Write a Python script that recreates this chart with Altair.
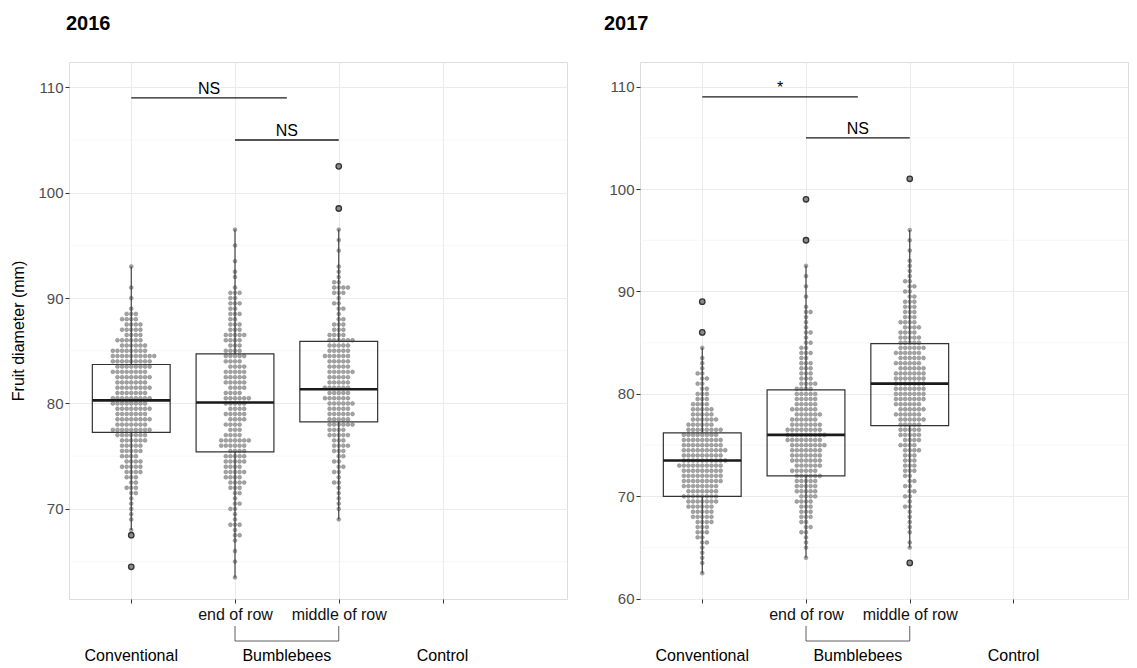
import altair as alt
import pandas as pd

FONT = "Liberation Sans"
CATS = [1, 2, 3, 4]
GROUP_LABELS = ["Conventional", "Bumblebees", "Control"]
GROUP_POS = [1, 2.5, 4]
STEP = 0.5  # counts are per 0.5 mm of fruit diameter

# ---------------- 2016: number of fruits per 0.5 mm value ----------------
conv16_start = 64.5
conv16_counts = [1, 0, 0, 0, 0, 0, 1, 1, 0, 1, 1, 1, 1, 1, 2, 3, 2, 3, 4, 5,
                 4, 4, 5, 5, 6, 7, 9, 7, 8, 7, 8, 8, 9, 7, 8, 7, 8, 8, 8, 9,
                 10, 8, 6, 6, 4, 5, 4, 4, 3, 1, 0, 1, 0, 1, 0, 0, 0, 1]
eor16_start = 63.5
eor16_counts = [1, 0, 0, 1, 0, 1, 0, 1, 2, 1, 3, 1, 1, 2, 2, 1, 2, 3, 4, 4,
                5, 4, 5, 5, 4, 6, 7, 4, 3, 4, 4, 5, 4, 5, 6, 4, 4, 5, 5, 5,
                4, 4, 5, 4, 3, 4, 5, 3, 3, 2, 3, 2, 3, 2, 3, 1, 0, 1, 1, 0,
                1, 0, 0, 1, 0, 0, 1]
mor16_start = 69.0
mor16_counts = [1, 0, 1, 1, 1, 1, 1, 2, 1, 2, 2, 2, 2, 3, 4, 3, 5, 4, 6, 5,
                6, 5, 6, 6, 5, 6, 5, 5, 6, 5, 5, 6, 5, 5, 6, 4, 3, 3, 2, 1,
                2, 2, 1, 3, 4, 2, 1, 1, 1, 0, 0, 1, 0, 1, 0, 1, 0, 0, 0, 1,
                0, 0, 0, 0, 0, 0, 0, 1]

# ---------------- 2017 ----------------
conv17_start = 62.5
conv17_counts = [1, 0, 1, 1, 1, 1, 2, 2, 3, 3, 4, 5, 5, 6, 7, 8, 7, 8, 9, 9,
                 9, 10, 10, 9, 10, 9, 9, 8, 8, 6, 6, 5, 5, 4, 3, 3, 2, 2, 2, 2,
                 1, 1, 1, 0, 1, 0, 0, 1, 0, 0, 0, 0, 0, 1]
eor17_start = 64.0
eor17_counts = [1, 0, 1, 1, 1, 2, 2, 2, 3, 3, 3, 4, 4, 5, 5, 5, 6, 6, 6, 7,
                7, 7, 8, 8, 9, 8, 7, 6, 6, 6, 5, 5, 5, 4, 4, 3, 3, 3, 3, 2,
                3, 2, 2, 1, 2, 1, 1, 1, 2, 1, 0, 1, 0, 1, 0, 1, 0, 1, 0, 0,
                0, 0, 1, 0, 0, 0, 0, 0, 0, 0, 1]
mor17_start = 63.5
mor17_counts = [1, 0, 0, 1, 1, 0, 1, 1, 1, 1, 1, 2, 1, 2, 2, 2, 2, 2, 3, 3,
                3, 3, 4, 4, 4, 5, 5, 5, 6, 6, 6, 6, 7, 7, 7, 7, 7, 7, 6, 6,
                6, 6, 6, 5, 5, 4, 4, 4, 3, 3, 3, 3, 2, 2, 2, 2, 1, 1, 1, 1,
                0, 1, 0, 1, 0, 1, 0, 0, 0, 0, 0, 0, 0, 0, 0, 1]

# ---------------- box statistics ----------------
q1_16 = [77.25, 75.4, 78.25]
med_16 = [80.3, 80.1, 81.35]
q3_16 = [83.7, 84.7, 85.9]
lo_16 = [68.0, 63.5, 69.0]
hi_16 = [93.0, 96.5, 96.5]
outx_16 = [1, 1, 3, 3]
outy_16 = [67.5, 64.5, 98.5, 102.5]

q1_17 = [70.0, 72.0, 76.9]
med_17 = [73.5, 76.0, 81.0]
q3_17 = [76.2, 80.4, 84.9]
lo_17 = [62.5, 64.0, 65.0]
hi_17 = [84.5, 92.5, 96.0]
outx_17 = [1, 1, 2, 2, 3, 3]
outy_17 = [86.0, 89.0, 95.0, 99.0, 101.0, 63.5]

# ---------------- significance bars ----------------
sig_x1 = [1, 2]
sig_x2 = [2.5, 3]
sig_y = [109, 105]
sig_lab_16 = ["NS", "NS"]
sig_lab_17 = ["*", "NS"]

minor_y = [65, 75, 85, 95, 105]

PX_PER_UNIT = 103.75
DOT_GAP = 4.6 / PX_PER_UNIT
H = 537


def swarm(start, counts, gx):
    rows = []
    for i, n in enumerate(counts):
        v = round(start + i * STEP, 2)
        flip = 1 if i % 2 == 0 else -1
        for k in range(n):
            j = (k + 1) // 2
            sign = flip if k % 2 == 1 else -flip
            off = 0 if k == 0 else sign * j
            rows.append({"value": v, "xpos": gx + off * DOT_GAP})
    return rows


def panel(title, title_dx, series, q1, med, q3, lo, hi, outx, outy, sig_lab,
          ydomain, yvalues, ytitle, width, xmax):
    pts = []
    for gx, (st, cnt) in enumerate(series, start=1):
        pts += swarm(st, cnt, gx)
    pts = pd.DataFrame(pts)
    box = pd.DataFrame({"g": [1, 2, 3], "q1": q1, "med": med, "q3": q3,
                        "lo": lo, "hi": hi})
    box["xl"] = box["g"] - 0.375
    box["xr"] = box["g"] + 0.375
    outs = pd.DataFrame({"g": outx, "v": outy})
    sig = pd.DataFrame({"x1": sig_x1, "x2": sig_x2, "y": sig_y, "lab": sig_lab})
    sig["xm"] = (sig["x1"] + sig["x2"]) / 2
    minors = pd.DataFrame({"m": minor_y})
    grp = pd.DataFrame({"x": GROUP_POS, "lab": GROUP_LABELS})
    brk = pd.DataFrame({"x1": [2], "x2": [3]})
    brv = pd.DataFrame({"x": [2, 3]})

    xscale = alt.Scale(domain=[0.4, xmax], nice=False, zero=False)
    yscale = alt.Scale(domain=ydomain, nice=False, zero=False)
    xaxis = alt.Axis(values=CATS, labelExpr="datum.value == 2 ? 'end of row' : datum.value == 3 ? 'middle of row' : ''",
                     grid=True, gridColor="#EBEBEB", gridWidth=1.1, domain=False,
                     tickSize=4, tickColor="#333333", tickWidth=1,
                     labelColor="#111111", labelFontSize=16, labelFont=FONT,
                     labelPadding=3, labelOverlap=False, labelFlush=False, title=None)
    yaxis = alt.Axis(values=yvalues, grid=True, gridColor="#EBEBEB", gridWidth=1.1,
                     domain=False, tickSize=4, tickColor="#333333",
                     labelColor="#4D4D4D", labelFontSize=15, labelFont=FONT,
                     labelPadding=2, title=ytitle, titleFont=FONT, titleFontSize=16,
                     titleFontWeight="normal", titleColor="#000000", titlePadding=11)

    def X(f):
        return alt.X(f, type="quantitative", scale=xscale, axis=xaxis)

    def Y(f):
        return alt.Y(f, type="quantitative", scale=yscale, axis=yaxis)

    minor_layer = alt.Chart(minors).mark_rule(color="#F2F2F2", strokeWidth=0.6).encode(y=Y("m"))
    dots = alt.Chart(pts).mark_point(filled=True, shape="circle", size=15, color="#A3A3A3",
                                     stroke="#808080", strokeWidth=0.5, opacity=1).encode(
        x=X("xpos"), y=Y("value"))
    whisk_hi = alt.Chart(box).mark_rule(color="#333333", strokeWidth=1.1).encode(
        x=X("g"), y=Y("q3"), y2="hi")
    whisk_lo = alt.Chart(box).mark_rule(color="#333333", strokeWidth=1.1).encode(
        x=X("g"), y=Y("lo"), y2="q1")
    rect = alt.Chart(box).mark_rect(fill=None, stroke="#333333", strokeWidth=1.2).encode(
        x=X("xl"), x2="xr", y=Y("q1"), y2="q3")
    median = alt.Chart(box).mark_rule(color="#1A1A1A", strokeWidth=2.6).encode(
        x=X("xl"), x2="xr", y=Y("med"))
    outl = alt.Chart(outs).mark_point(filled=True, shape="circle", size=30, color="#8A8A8A",
                                      stroke="#333333", strokeWidth=1.3, opacity=1).encode(
        x=X("g"), y=Y("v"))
    sig_rule = alt.Chart(sig).mark_rule(color="#1A1A1A", strokeWidth=1.3).encode(
        x=X("x1"), x2="x2", y=Y("y"))
    sig_text = alt.Chart(sig).mark_text(font=FONT, fontSize=16, color="#000000",
                                        baseline="alphabetic", dy=-4).encode(
        x=X("xm"), y=Y("y"), text="lab")
    br_h = alt.Chart(brk).mark_rule(color="#4D4D4D", strokeWidth=0.9).encode(
        x=X("x1"), x2="x2", y=alt.value(579))
    br_v = alt.Chart(brv).mark_rule(color="#4D4D4D", strokeWidth=0.9).encode(
        x=X("x"), y=alt.value(564), y2=alt.value(579))
    grp_text = alt.Chart(grp).mark_text(font=FONT, fontSize=16, color="#000000",
                                        baseline="middle").encode(
        x=X("x"), y=alt.value(594), text="lab")

    return alt.layer(minor_layer, dots, whisk_hi, whisk_lo, rect, median, outl,
                     sig_rule, sig_text, br_h, br_v, grp_text).properties(
        width=width, height=H,
        title=alt.TitleParams(title, anchor="start", frame="group", font=FONT,
                              fontSize=20, fontWeight="bold", color="#000000",
                              offset=28, dx=title_dx))


left = panel("2016", -3,
             [(conv16_start, conv16_counts), (eor16_start, eor16_counts), (mor16_start, mor16_counts)],
             q1_16, med_16, q3_16, lo_16, hi_16, outx_16, outy_16, sig_lab_16,
             [61.45, 112.4], [70, 80, 90, 100, 110], "Fruit diameter (mm)", 498, 5.2)
right = panel("2017", -36,
              [(conv17_start, conv17_counts), (eor17_start, eor17_counts), (mor17_start, mor17_counts)],
              q1_17, med_17, q3_17, lo_17, hi_17, outx_17, outy_17, sig_lab_17,
              [59.98, 112.4], [60, 70, 80, 90, 100, 110], None, 488, 0.4 + 488 / PX_PER_UNIT)

chart = alt.hconcat(left, right, spacing=73, bounds="flush").properties(
    padding={"left": 2, "top": 5, "right": 0, "bottom": 0}
).configure_view(stroke="#4D4D4D", strokeWidth=1).configure(background="white")

chart.save("out.html", embed_options={"renderer": "svg", "actions": False})
